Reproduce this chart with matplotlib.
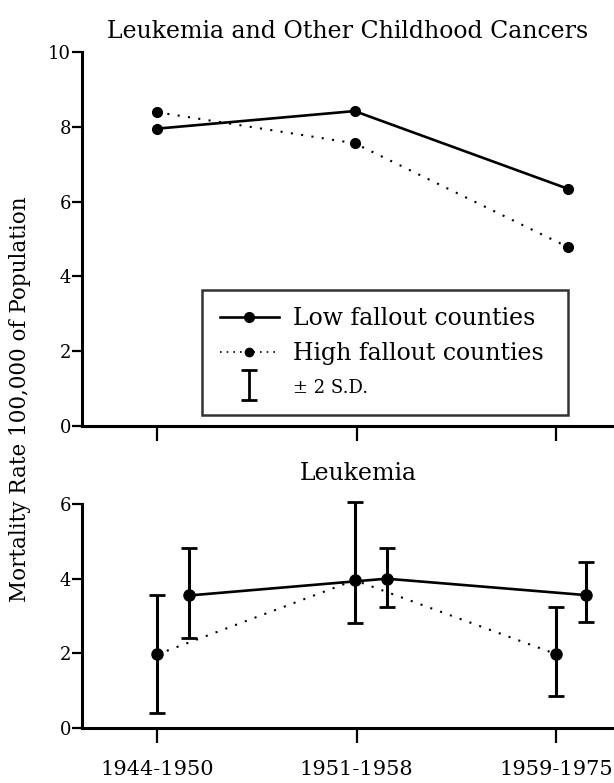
"""Childhood cancer mortality rates in low and high fallout counties."""
import matplotlib
matplotlib.use("Agg")
import matplotlib.pyplot as plt
from matplotlib.lines import Line2D
from matplotlib.path import Path

plt.rcParams["font.family"] = ["DejaVu Serif"]

periods = ["1944-1950", "1951-1958", "1959-1975"]

# top panel: leukemia and other childhood cancers
all_x = [0.0, 0.99, 2.06]
all_low = [7.95, 8.42, 6.34]
all_high = [8.39, 7.56, 4.78]

# bottom panel: leukemia only, with +/- 2 S.D. bars
leuk_low_x = [0.16, 1.15, 2.15]
leuk_low = [3.55, 4.0, 3.56]
leuk_low_lo = [2.4, 3.25, 2.84]
leuk_low_hi = [4.82, 4.82, 4.45]

leuk_high_x = [0.0, 0.99, 2.0]
leuk_high = [1.97, 3.96, 1.98]
leuk_high_lo = [0.4, 2.8, 0.86]
leuk_high_hi = [3.56, 6.05, 3.24]

DOTS = (0, (1, 4))

fig = plt.figure(figsize=(6.14, 7.83), dpi=100)
ax_top = fig.add_axes([0.1336, 0.456, 0.8664, 0.4776])
ax_bot = fig.add_axes([0.1336, 0.0702, 0.8664, 0.2861])

for ax in (ax_top, ax_bot):
    for side in ("top", "right"):
        ax.spines[side].set_visible(False)
    for side in ("left", "bottom"):
        ax.spines[side].set_linewidth(2.2)
    ax.set_xlim(-0.376, 2.29)
    ax.set_xticks(range(len(periods)))
    ax.tick_params(axis="x", direction="out", length=11, width=1.6)
    ax.tick_params(axis="y", direction="out", length=7, width=1.6,
                   labelsize=13, pad=1)

ax_top.plot(all_x, all_low, color="black", lw=1.9, marker="o", ms=7)
ax_top.plot(all_x, all_high, color="black", lw=1.5, ls=DOTS,
            marker="o", ms=7)
ax_top.set_ylim(0, 10)
ax_top.set_yticks([0, 2, 4, 6, 8, 10])
ax_top.set_xticklabels([])
ax_top.set_title("Leukemia and Other Childhood Cancers", fontsize=17, pad=10)


def bars(vals, lo, hi):
    return [[v - l for v, l in zip(vals, lo)], [h - v for v, h in zip(vals, hi)]]


conts = [
    ax_bot.errorbar(leuk_low_x, leuk_low,
                    yerr=bars(leuk_low, leuk_low_lo, leuk_low_hi),
                    color="black", lw=1.9, marker="o", ms=8, elinewidth=2.2,
                    capsize=5.5, capthick=2),
    ax_bot.errorbar(leuk_high_x, leuk_high,
                    yerr=bars(leuk_high, leuk_high_lo, leuk_high_hi),
                    color="black", lw=1.5, ls=DOTS, marker="o", ms=8,
                    elinewidth=2.2, capsize=5.5, capthick=2),
]
for cont in conts:
    for artist in cont.get_children():
        artist.set_clip_on(False)

ax_bot.set_ylim(0, 6)
ax_bot.set_yticks([0, 2, 4, 6])
ax_bot.set_xticklabels(periods, fontsize=15)
ax_bot.tick_params(axis="x", pad=12)
ax_bot.set_title("Leukemia", fontsize=17, pad=17, x=0.52)

# legend in the top panel; the S.D. symbol is an I-shaped marker
i_beam = Path([(-0.5, -1), (0.5, -1), (0, -1), (0, 1), (-0.5, 1), (0.5, 1)],
              [Path.MOVETO, Path.LINETO, Path.MOVETO, Path.LINETO,
               Path.MOVETO, Path.LINETO])
handles = [
    Line2D([], [], color="black", lw=1.9, marker="o", ms=7),
    Line2D([], [], color="black", lw=1.2, ls=(0, (1, 3)), marker="o", ms=6),
    Line2D([], [], ls="none", marker=i_beam, ms=22, mec="black", mfc="none",
           mew=2),
]
leg = ax_top.legend(handles, ["Low fallout counties", "High fallout counties",
                              "\u00b1 2 S.D."],
                    loc="lower left", bbox_to_anchor=(0.2256, 0.029, 0.688, 0.3),
                    mode="expand", fontsize=17, frameon=True, fancybox=False,
                    edgecolor="black", borderpad=0.75, handlelength=2.5,
                    handletextpad=0.6, labelspacing=0.5, borderaxespad=0)
leg.get_frame().set_linewidth(1.8)
leg.get_texts()[2].set_fontsize(13)

fig.text(0.033, 0.49, "Mortality Rate 100,000 of Population", rotation=90,
         ha="center", va="center", fontsize=15.5)

fig.savefig("out.png", dpi=100)
